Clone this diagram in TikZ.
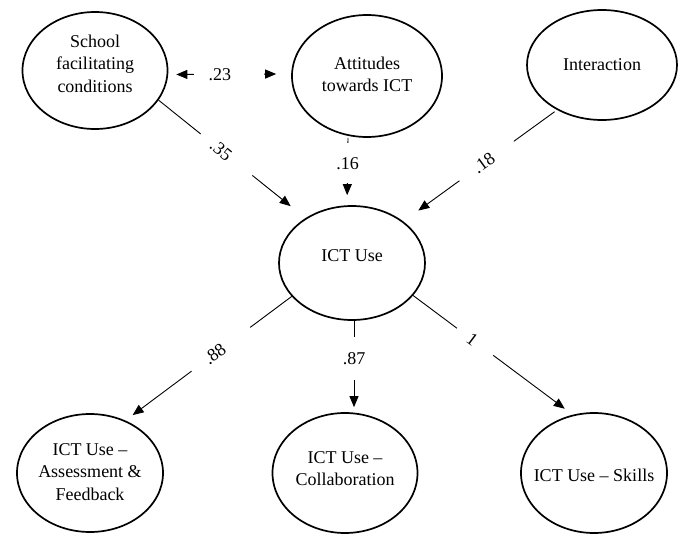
\documentclass[tikz,border=0pt]{standalone}
\usepackage{fontspec}
\setmainfont{Liberation Serif}
\usetikzlibrary{arrows.meta,shapes.geometric}
\newcommand{\offtext}[2]{\makebox[0pt]{\kern#1\relax#2}}
\newcommand{\txtlines}[2]{\raisebox{#1}[\height][\depth]{\begin{tabular}{@{}c@{}}#2\end{tabular}}}
\begin{document}
\begin{tikzpicture}[x=1pt,y=1pt,
  latent/.style={ellipse, draw, line width=1.7pt, minimum width=146pt, minimum height=118pt,
    inner xsep=-15pt, inner ysep=-10pt, align=center, font=\fontsize{18}{22.5}\selectfont},
  arr/.style={-{Triangle[length=11pt,width=9pt]}, line width=0.9pt},
  dbl/.style={{Triangle[length=11pt,width=9pt]}-{Triangle[length=11pt,width=9pt]}, line width=0.9pt},
  lbl/.style={fill=white, inner sep=0pt, minimum height=9pt, font=\fontsize{18}{22.5}\selectfont}]
\useasboundingbox (0,0) rectangle (680,-535);

\node[latent, minimum width=145pt, minimum height=117pt] (school) at (95,-70.5) {\txtlines{5pt}{School\\facilitating\\conditions}};
\node[latent, minimum width=150pt, minimum height=122pt] (attitudes) at (367,-76) {\txtlines{0pt}{Attitudes\\towards ICT}};
\node[latent, minimum width=150pt, minimum height=110pt] (interaction) at (602,-65) {\txtlines{-1pt}{Interaction}};
\node[latent, minimum height=114pt] (ict) at (352,-263) {\txtlines{6pt}{ICT Use}};
\node[latent] (assess) at (90,-473) {\txtlines{0pt}{ICT Use –\\Assessment \&\\Feedback}};
\node[latent, minimum width=145pt, minimum height=120pt] (collab) at (345,-473) {\txtlines{3pt}{ICT Use –\\Collaboration}};
\node[latent, minimum height=120pt] (skills) at (594,-473) {\txtlines{-4pt}{ICT Use – Skills}};

\draw[dbl] ([xshift=8pt,yshift=-4pt]school.east) -- node[lbl, pos=0.527, minimum width=70pt] (l23) {\offtext{-18pt}{.23}} ([xshift=-15pt,yshift=2pt]attitudes.west);

\draw[arr, shorten >=19pt] (school.-25) -- node[lbl, sloped, pos=0.4625, minimum width=66pt] (l35) {\offtext{-14pt}{.35}} (ict.136);

\draw[arr, shorten >=10pt] ([xshift=-19pt]attitudes.south) -- node[lbl, pos=0.377, minimum height=40pt, minimum width=26pt] (l16) {.16} ([xshift=-5pt]ict.north);

\draw[arr, shorten <=3pt, shorten >=18.5pt] (interaction.225) -- node[lbl, sloped, pos=0.458, minimum width=67pt] (l18) {\offtext{-7pt}{.18}} (ict.39);

\draw[arr, shorten >=9pt] (ict.209.5) -- node[lbl, sloped, pos=0.426, minimum width=73pt] (l88) {\offtext{-15pt}{.88}} (assess.56);

\draw[arr, shorten >=5pt] ([xshift=2pt]ict.south) -- node[lbl, pos=0.414, minimum height=43pt, minimum width=26pt] (l87) {.87} ([xshift=9pt]collab.north);

\draw[arr, shorten >=10pt] (ict.-28.4) -- node[lbl, sloped, pos=0.388, minimum width=45pt] (l1) {\offtext{-7pt}{1}} (skills.110.7);
\end{tikzpicture}
\end{document}
